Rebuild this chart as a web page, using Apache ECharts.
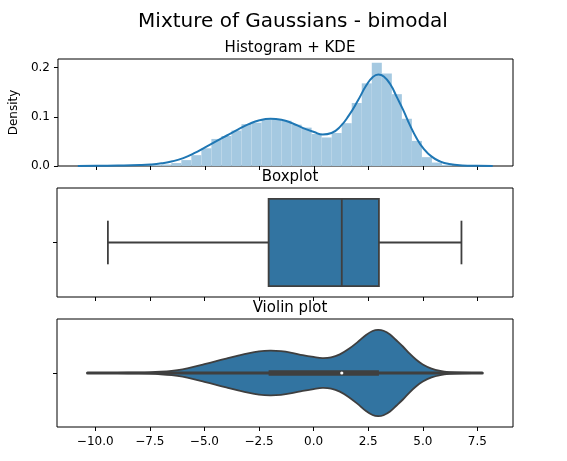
<!DOCTYPE html>
<html>
<head>
<meta charset="utf-8">
<script src="https://cdn.jsdelivr.net/npm/echarts@6/dist/echarts.min.js"></script>
<style>
  html, body { margin: 0; padding: 0; background: #fff; }
  #chart { width: 567px; height: 461px; }
</style>
</head>
<body>
<div id="chart"></div>
<script>
// 数据
const xTicks = [-10, -7.5, -5, -2.5, 0, 2.5, 5, 7.5]
const densityTicks = [0, 0.1, 0.2]

// 直方图：分箱边界和密度
const histEdges = [-9.31, -8.85, -8.39, -7.93, -7.47, -7.01, -6.55, -6.09, -5.63, -5.17,
  -4.71, -4.25, -3.79, -3.33, -2.87, -2.41, -1.95, -1.49, -1.03, -0.57,
  -0.11, 0.35, 0.81, 1.27, 1.73, 2.19, 2.65, 3.11, 3.57, 4.03,
  4.49, 4.95, 5.41, 5.87, 6.33, 6.79]
const histDensity = [0.001, 0.0, 0.001, 0.001, 0.002, 0.003, 0.006, 0.012, 0.022, 0.036,
  0.055, 0.061, 0.072, 0.085, 0.088, 0.095, 0.095, 0.092, 0.084, 0.078,
  0.065, 0.058, 0.067, 0.087, 0.128, 0.168, 0.21, 0.188, 0.146, 0.096,
  0.051, 0.018, 0.007, 0.002, 0.001]

// KDE 曲线
const kdeX = [-10.84, -10, -9, -8, -7.5, -7, -6.5, -6, -5.5, -5, -4.5, -4, -3.5, -3, -2.5, -2, -1.5, -1, -0.5,
  0, 0.4, 0.8, 1.2, 1.6, 2, 2.4, 2.7, 2.95, 3.2, 3.5, 3.8, 4.1, 4.4, 4.7, 5, 5.4, 5.8, 6.2, 6.8, 7.5, 8.2]
const kdeY = [0, 0.0003, 0.0008, 0.0018, 0.003, 0.0055, 0.0095, 0.016, 0.026, 0.038, 0.05, 0.062, 0.074, 0.085, 0.093, 0.096, 0.094, 0.087, 0.077,
  0.069, 0.064, 0.067, 0.08, 0.103, 0.132, 0.164, 0.181, 0.186, 0.182, 0.166, 0.14, 0.113, 0.083, 0.057, 0.037, 0.019, 0.009, 0.004, 0.0012, 0.0003, 0]

// 箱线图：下须、Q1、中位数、Q3、上须
const boxStats = [-9.42, -2.06, 1.29, 2.99, 6.77]
// 小提琴图的范围
const violinRange = [-10.35, 7.72]

const xMin = -11.75
const xMax = 9.13

const fmt = v => v.toFixed(1).replace('-', '\u2212')
const font = 'DejaVu Sans'
const dark = '#3f3f3f'
const boxColor = '#3274a1'

function xAxisFor(gridIndex, showLabels) {
  return {
    type: 'value',
    gridIndex,
    min: xMin,
    max: xMax,
    axisLine: { show: false, onZero: false },
    splitLine: { show: false },
    axisTick: { show: true, length: 4, lineStyle: { color: '#000', width: 1 }, customValues: xTicks },
    axisLabel: {
      show: true,
      customValues: xTicks,
      formatter: showLabels ? fmt : () => '',
      color: '#000',
      fontSize: 12,
      fontFamily: font,
      margin: 9
    }
  }
}

function catYAxis(gridIndex) {
  return {
    type: 'value',
    gridIndex,
    min: -0.5,
    max: 0.5,
    axisLine: { show: false, onZero: false },
    splitLine: { show: false },
    axisTick: { show: true, length: 4, lineStyle: { color: '#000', width: 1 }, customValues: [0] },
    axisLabel: { show: true, customValues: [0], formatter: () => '' }
  }
}

const chart = echarts.init(document.getElementById('chart'), null, { renderer: 'canvas' })

const kdeMax = Math.max(...kdeY)

const option = {
  animation: false,
  backgroundColor: '#fff',
  title: [
    { text: 'Mixture of Gaussians - bimodal', left: 288, top: 7, textAlign: 'center',
      textStyle: { fontFamily: font, fontSize: 20, fontWeight: 'normal', color: '#000' } },
    { text: 'Histogram + KDE', left: 285, top: 36, textAlign: 'center',
      textStyle: { fontFamily: font, fontSize: 15, fontWeight: 'normal', color: '#000' } },
    { text: 'Boxplot', left: 285, top: 165, textAlign: 'center',
      textStyle: { fontFamily: font, fontSize: 15, fontWeight: 'normal', color: '#000' } },
    { text: 'Violin plot', left: 285, top: 296, textAlign: 'center',
      textStyle: { fontFamily: font, fontSize: 15, fontWeight: 'normal', color: '#000' } }
  ],
  grid: [
    { left: 57, right: 54, top: 59, height: 107, show: true, borderColor: '#000', borderWidth: 1 },
    { left: 57, right: 54, top: 188, height: 109, show: true, borderColor: '#000', borderWidth: 1 },
    { left: 57, right: 54, top: 319, height: 108, show: true, borderColor: '#000', borderWidth: 1 }
  ],
  xAxis: [xAxisFor(0, false), xAxisFor(1, false), xAxisFor(2, true)],
  yAxis: [
    {
      type: 'value',
      gridIndex: 0,
      min: 0,
      max: 0.2175,
      name: 'Density',
      nameLocation: 'middle',
      nameGap: 33,
      nameTextStyle: { fontFamily: font, fontSize: 12, color: '#000' },
      axisLine: { show: false, onZero: false },
      splitLine: { show: false },
      axisTick: { show: true, length: 4, lineStyle: { color: '#000', width: 1 }, customValues: densityTicks },
      axisLabel: { show: true, customValues: densityTicks, formatter: fmt, color: '#000', fontSize: 12, fontFamily: font, margin: 8 }
    },
    catYAxis(1),
    catYAxis(2)
  ],
  series: [
    {
      // 直方图
      type: 'custom',
      xAxisIndex: 0,
      yAxisIndex: 0,
      data: histDensity.map((d, i) => [histEdges[i], histEdges[i + 1], d]),
      encode: { x: [0, 1], y: 2 },
      renderItem(params, api) {
        const p0 = api.coord([api.value(0), api.value(2)])
        const p1 = api.coord([api.value(1), 0])
        return {
          type: 'rect',
          shape: { x: p0[0], y: p0[1], width: p1[0] - p0[0], height: p1[1] - p0[1] },
          style: { fill: '#a5c9e1' }
        }
      }
    },
    {
      // KDE
      type: 'line',
      xAxisIndex: 0,
      yAxisIndex: 0,
      data: kdeX.map((x, i) => [x, kdeY[i]]),
      smooth: true,
      showSymbol: false,
      lineStyle: { color: '#1f77b4', width: 2 },
      z: 5
    },
    {
      // 箱线图
      type: 'custom',
      xAxisIndex: 1,
      yAxisIndex: 1,
      data: [boxStats],
      renderItem(params, api) {
        const [lo, q1, med, q3, hi] = boxStats
        const c = (x, y) => api.coord([x, y])
        const lineStyle = { stroke: dark, lineWidth: 1.8 }
        const seg = (a, b) => ({ type: 'line', shape: { x1: a[0], y1: a[1], x2: b[0], y2: b[1] }, style: lineStyle })
        const b0 = c(q1, 0.4), b1 = c(q3, -0.4)
        return {
          type: 'group',
          children: [
            seg(c(lo, 0), c(q1, 0)),
            seg(c(q3, 0), c(hi, 0)),
            seg(c(lo, 0.2), c(lo, -0.2)),
            seg(c(hi, 0.2), c(hi, -0.2)),
            {
              type: 'rect',
              shape: { x: b0[0], y: b0[1], width: b1[0] - b0[0], height: b1[1] - b0[1] },
              style: { fill: boxColor, stroke: dark, lineWidth: 1.8 }
            },
            seg(c(med, 0.4), c(med, -0.4))
          ]
        }
      }
    },
    {
      // 小提琴图
      type: 'custom',
      xAxisIndex: 2,
      yAxisIndex: 2,
      data: [boxStats],
      renderItem(params, api) {
        const [lo, q1, med, q3, hi] = boxStats
        const c = (x, y) => api.coord([x, y])
        const inside = kdeX.map((x, i) => [x, kdeY[i]]).filter(p => p[0] > violinRange[0] && p[0] < violinRange[1])
        const pts = [[violinRange[0], 0], ...inside, [violinRange[1], 0]]
        const upper = pts.map(p => c(p[0], 0.4 * p[1] / kdeMax))
        const lower = pts.slice().reverse().map(p => c(p[0], -0.4 * p[1] / kdeMax))
        const m = c(med, 0)
        return {
          type: 'group',
          children: [
            {
              type: 'polygon',
              shape: { points: upper.concat(lower), smooth: 0.35 },
              style: { fill: boxColor, stroke: dark, lineWidth: 1.8 }
            },
            { type: 'line', shape: { x1: c(violinRange[0], 0)[0], y1: m[1], x2: c(violinRange[1], 0)[0], y2: m[1] },
              style: { stroke: dark, lineWidth: 3.2, lineCap: 'round' } },
            { type: 'line', shape: { x1: c(q1, 0)[0], y1: m[1], x2: c(q3, 0)[0], y2: m[1] }, style: { stroke: dark, lineWidth: 5.5 } },
            { type: 'circle', shape: { cx: m[0], cy: m[1], r: 1.6 }, style: { fill: '#fff' } }
          ]
        }
      }
    }
  ]
}

chart.setOption(option)

window.addEventListener('resize', () => {
  chart.resize()
})
</script>
</body>
</html>
